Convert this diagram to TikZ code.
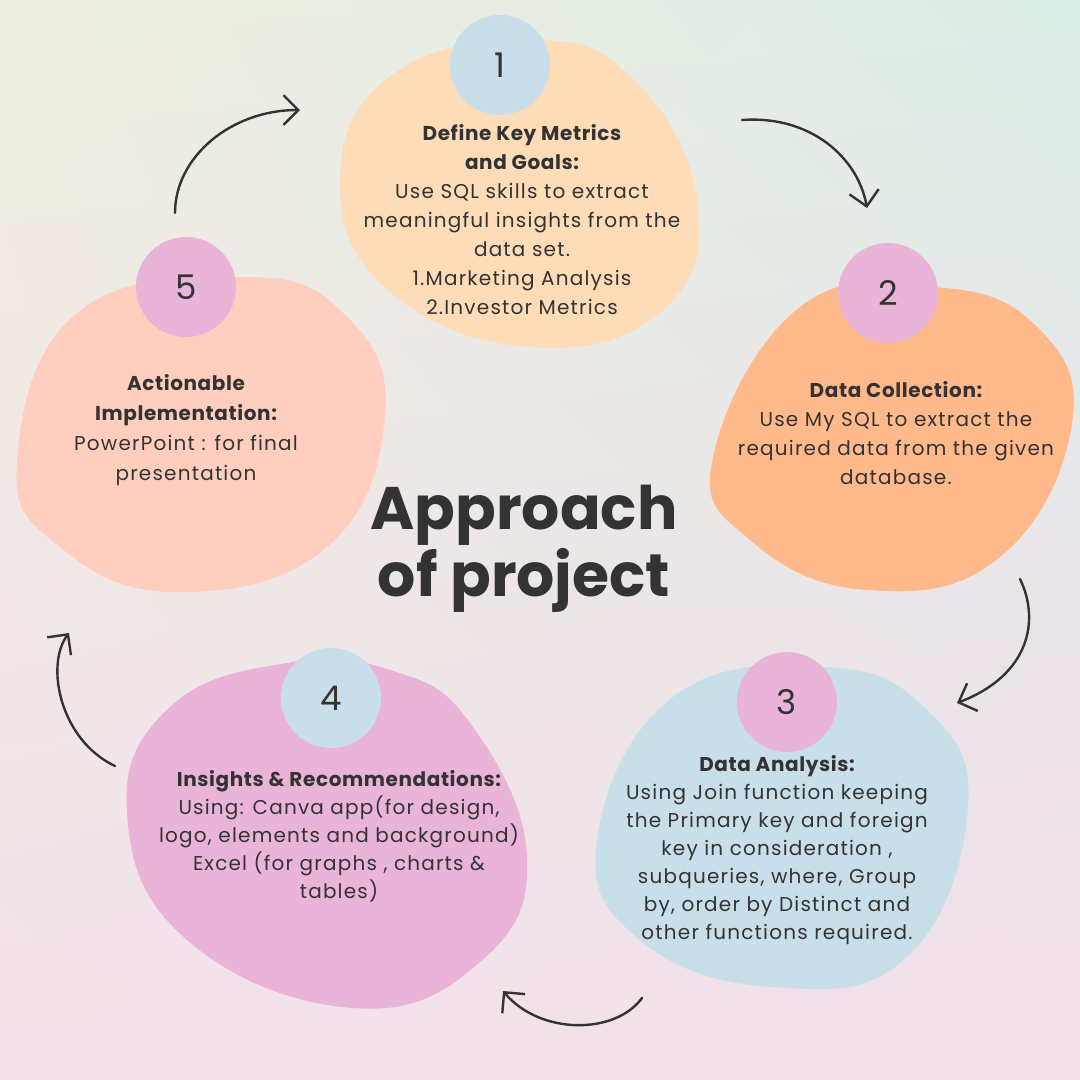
\documentclass[tikz,border=0pt]{standalone}
\usepackage{fontspec}
\setmainfont{Poppins}
\newfontfamily\bodyface[LetterSpace=6]{Poppins}
\newfontfamily\headface[LetterSpace=3]{Poppins}
\usetikzlibrary{arrows.meta,shadings}
\definecolor{ink}{HTML}{333333}
\definecolor{bgTL}{HTML}{EFEEE2}
\definecolor{bgTR}{HTML}{DEEDE7}
\definecolor{bgBL}{HTML}{F2E2EA}
\definecolor{bgBR}{HTML}{F1DEE9}
\definecolor{peachA}{HTML}{FDDCB7}
\definecolor{orangeB}{HTML}{FFB98A}
\definecolor{paleblue}{HTML}{C8DEE8}
\definecolor{softpink}{HTML}{EAB4D9}
\definecolor{salmonE}{HTML}{FFCEBF}
\tikzset{
  badge/.style={circle, minimum size=100pt, inner sep=0pt, text=ink,
    font=\fontsize{34}{40}\selectfont},
  body/.style={align=center, text=ink, font=\bodyface\fontsize{20}{29}\selectfont, inner sep=0pt},
  flow/.style={draw=ink, line width=2.4pt, line cap=round,
    -{Straight Barb[angle=90:21pt, line width=2.4pt]}},
}
\newcommand{\hd}[1]{{\headface\bfseries #1}}
\begin{document}
\begin{tikzpicture}[x=1pt,y=-1pt]
\useasboundingbox (0,0) rectangle (1080,1080);
% soft background wash
\shade[upper left=bgTL, upper right=bgTR, lower left=bgBL, lower right=bgBR]
  (0,0) rectangle (1080,1080);

% blobs
\fill[peachA] plot[smooth cycle, tension=0.75] coordinates
  {(530,40) (632,78) (697,200) (663,310) (530,347) (388,290) (340,180) (392,75)};
\fill[orangeB] plot[smooth cycle, tension=0.75] coordinates
  {(933,287) (1035,325) (1072,423) (1000,557) (867,590) (750,540) (713,457) (800,307)};
\fill[paleblue] plot[smooth cycle, tension=0.75] coordinates
  {(823,667) (925,708) (968,807) (907,957) (773,987) (640,940) (597,840) (673,697)};
\fill[softpink] plot[smooth cycle, tension=0.75] coordinates
  {(287,663) (390,670) (470,723) (527,857) (480,962) (353,1008) (187,940) (127,813) (170,707)};
\fill[salmonE] plot[smooth cycle, tension=0.75] coordinates
  {(243,277) (343,313) (385,413) (327,547) (177,592) (60,547) (17,463) (77,313)};

% numbered badges
\node[badge, fill=paleblue] (n1) at (500,65) {1};
\node[badge, fill=softpink] (n2) at (888,293) {2};
\node[badge, fill=softpink] (n3) at (787,702) {3};
\node[badge, fill=paleblue] (n4) at (331,698) {4};
\node[badge, fill=softpink] (n5) at (186,287) {5};

% step texts
\node[body] (t1) at (522,220) {\hd{Define Key Metrics}\\ \hd{and Goals:}\\ Use SQL skills to extract\\
  meaningful insights from the\\ data set.\\ 1.Marketing Analysis\\ 2.Investor Metrics};
\node[body] (t2) at (896,433) {\hd{Data Collection:}\\ Use My SQL to extract the\\
  required data from the given\\ database.};
\node[body, font=\bodyface\fontsize{20}{28}\selectfont] (t3) at (777,850)
  {\hd{Data Analysis:}\\ Using Join function keeping\\
  the Primary key and foreign\\ key in consideration ,\\ subqueries, where, Group\\
  by, order by Distinct and\\ other functions required.};
\node[body, font=\bodyface\fontsize{20}{28}\selectfont] (t4) at (339,836)
  {\hd{Insights \& Recommendations:}\\ Using: Canva app(for design,\\
  logo, elements and background)\\ Excel (for graphs , charts \&\\ tables)};
\node[body, font=\bodyface\fontsize{20}{30}\selectfont] (t5) at (186,430)
  {\hd{Actionable}\\ \hd{Implementation:}\\ PowerPoint : for final\\ presentation};

% title
\node[align=center, text=ink, inner sep=0pt, font=\fontsize{60}{67}\selectfont\bfseries]
  (title) at (524,549) {Approach\\ of project};

% cycle arrows
\coordinate (a1s) at (175,213); \coordinate (a1e) at (300,110);
\coordinate (a2s) at (742,120); \coordinate (a2e) at (867,208);
\coordinate (a3s) at (1020,579); \coordinate (a3e) at (957,703);
\coordinate (a4s) at (642,998); \coordinate (a4e) at (503,991);
\coordinate (a5s) at (115,766); \coordinate (a5e) at (69,633);
\draw[flow] (a1s) .. controls (175,157) and (231,110) .. (a1e);
\draw[flow] (a2s) .. controls (811,115) and (858,158) .. (a2e);
\draw[flow] (a3s) .. controls (1040,620) and (1030,675) .. (a3e);
\draw[flow] (a4s) .. controls (615,1035) and (540,1035) .. (a4e);
\draw[flow] (a5s) .. controls (60,740) and (45,665) .. (a5e);
\end{tikzpicture}
\end{document}
